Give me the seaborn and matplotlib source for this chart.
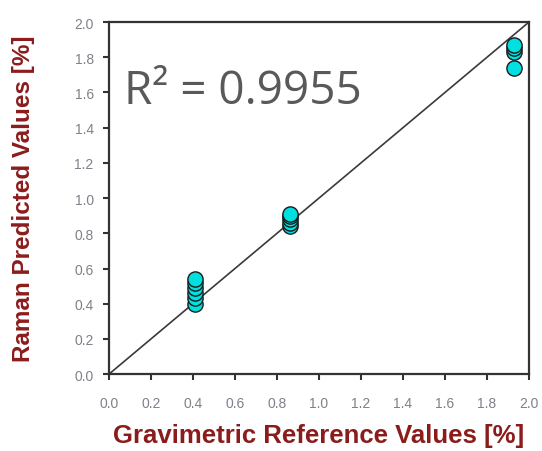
import matplotlib
matplotlib.use("Agg")
import matplotlib.pyplot as plt
import seaborn as sns
import numpy as np
import pandas as pd

# Data
ref_x = [0.41, 0.41, 0.41, 0.41, 0.41, 0.41,
         0.86, 0.86, 0.86, 0.86, 0.86,
         1.93, 1.93, 1.93, 1.93]
pred_y = [0.40, 0.43, 0.46, 0.49, 0.52, 0.54,
          0.84, 0.86, 0.88, 0.90, 0.91,
          1.74, 1.83, 1.85, 1.87]
line_x = [0.0, 2.0]
line_y = [0.0, 2.0]
tick_vals = [0.0, 0.2, 0.4, 0.6, 0.8, 1.0, 1.2, 1.4, 1.6, 1.8, 2.0]
r2_text = "R² = 0.9955"

sns.set_style("white")
plt.rcParams['font.family'] = ['Liberation Sans', 'DejaVu Sans']

fig = plt.figure(figsize=(5.42, 4.52), dpi=100)
ax = fig.add_axes([0.201, 0.170, 0.775, 0.779])

df = pd.DataFrame({"x": ref_x, "y": pred_y})
ldf = pd.DataFrame({"x": line_x, "y": line_y})
sns.lineplot(data=ldf, x="x", y="y", ax=ax, color="#3a3a3a", linewidth=1.2, zorder=2)
sns.scatterplot(data=df, x="x", y="y", ax=ax, s=120, color="#00e0e0",
                edgecolor="#1a1a1a", linewidth=1.0, zorder=3)

ax.set_xlim(0, 2.0)
ax.set_ylim(0, 2.0)
ax.set_xticks(tick_vals)
ax.set_yticks(tick_vals)
ax.set_xticklabels([f"{v:.1f}" for v in tick_vals])
ax.set_yticklabels([f"{v:.1f}" for v in tick_vals])
ax.tick_params(axis="both", which="major", direction="out", length=4, width=1.5,
               color="#333333", labelsize=10, labelcolor="#80808a",
               bottom=True, left=True, top=False, right=False)
ax.tick_params(axis="x", pad=12)
ax.tick_params(axis="y", pad=7)
for sp in ax.spines.values():
    sp.set_color("#333333")
    sp.set_linewidth(1.6)

ax.set_xlabel("Gravimetric Reference Values [%]", fontsize=18.5, fontweight="bold",
              color="#8b1c1c", labelpad=9)
ax.set_ylabel("Raman Predicted Values [%]", fontsize=17.5, fontweight="bold",
              color="#8b1c1c", labelpad=28)

ax.text(0.073, 1.61, r2_text, fontsize=33, color="#595959", va="center", ha="left",
        family=["Open Sans", "DejaVu Sans"])

fig.savefig("out.png", dpi=100)
